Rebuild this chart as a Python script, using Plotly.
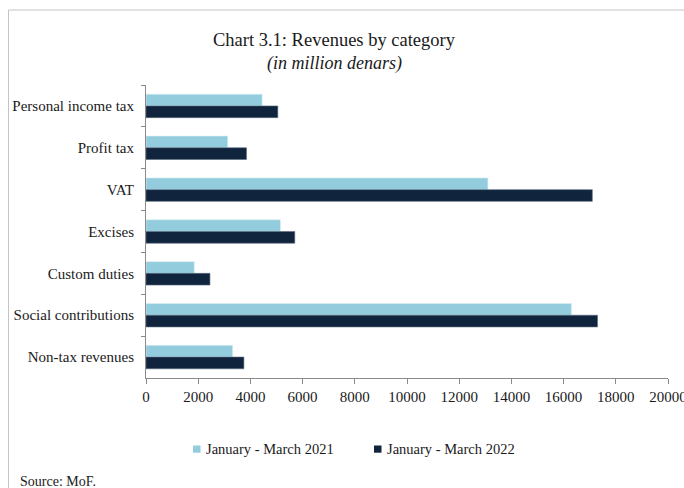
import plotly.graph_objects as go

# Revenue categories (top to bottom) and values in million denars
categories = [
    "Personal income tax",
    "Profit tax",
    "VAT",
    "Excises",
    "Custom duties",
    "Social contributions",
    "Non-tax revenues",
]
rev_2021 = [4450, 3130, 13100, 5150, 1850, 16300, 3320]
rev_2022 = [5050, 3850, 17100, 5700, 2450, 17300, 3750]
series_names = ["January - March 2021", "January - March 2022"]
x_ticks = [0, 2000, 4000, 6000, 8000, 10000, 12000, 14000, 16000, 18000, 20000]

LIGHT = "#93CDDD"
DARK = "#10243E"
FONT = "Liberation Serif"
TEXT = "#1a1a1a"
AXIS = "#8a8a8a"

W, H = 684, 488
L, R, T, B = 146, 16, 85, 110
PW, PH = W - L - R, H - T - B


def px(xp):
    return (xp - L) / PW


def py(yp):
    return (H - B - yp) / PH


fig = go.Figure()
fig.add_trace(go.Bar(
    y=categories, x=rev_2021, name=series_names[0], orientation="h",
    marker=dict(color=LIGHT, line=dict(color="#d8eef4", width=0.6)),
    showlegend=False,
))
fig.add_trace(go.Bar(
    y=categories, x=rev_2022, name=series_names[1], orientation="h",
    marker=dict(color=DARK, line=dict(color="#5a6b80", width=0.6)),
    showlegend=False,
))

fig.update_layout(
    width=W, height=H,
    margin=dict(l=L, r=R, t=T, b=B, autoexpand=False),
    paper_bgcolor="white", plot_bgcolor="white",
    barmode="group", bargap=0.44, bargroupgap=0,
    font=dict(family=FONT, size=15, color=TEXT),
)

fig.update_xaxes(
    range=[0, 20000], tickvals=x_ticks, tickformat="d",
    showgrid=False, zeroline=False, automargin=False,
    showline=True, linecolor=AXIS, linewidth=1,
    ticks="outside", ticklen=5, tickcolor=AXIS,
    ticklabeloverflow="allow",
    tickfont=dict(family=FONT, size=15, color=TEXT),
)
fig.update_yaxes(
    type="category", autorange="reversed", automargin=False,
    showgrid=False, zeroline=False,
    showline=True, linecolor=AXIS, linewidth=1,
    ticks="outside", ticklen=4, tickcolor=AXIS, tickson="boundaries",
    ticklabelstandoff=8,
    tickfont=dict(family=FONT, size=15, color=TEXT),
)

# Outer frame (left and top edges visible)
fig.add_shape(type="rect", xref="paper", yref="paper",
              x0=px(8.5), x1=px(720), y0=py(520), y1=py(10),
              line=dict(color="#c4c4c4", width=1), fillcolor="rgba(0,0,0,0)",
              layer="below")

# Title and subtitle
fig.add_annotation(xref="paper", yref="paper", x=px(334), y=py(39.5),
                   text="Chart 3.1: Revenues by category", showarrow=False,
                   font=dict(family=FONT, size=18.5, color=TEXT),
                   xanchor="center", yanchor="middle")
fig.add_annotation(xref="paper", yref="paper", x=px(334), y=py(63),
                   text="<i>(in million denars)</i>", showarrow=False,
                   font=dict(family=FONT, size=18, color=TEXT),
                   xanchor="center", yanchor="middle")

# Legend: colour squares with labels
legend_items = [(193, LIGHT, series_names[0]), (374, DARK, series_names[1])]
for x0, col, label in legend_items:
    fig.add_shape(type="rect", xref="paper", yref="paper",
                  x0=px(x0), x1=px(x0 + 7.5), y0=py(452.7), y1=py(445.5),
                  line=dict(width=0), fillcolor=col)
    fig.add_annotation(xref="paper", yref="paper", x=px(x0 + 11), y=py(448.5),
                       text=label, showarrow=False,
                       font=dict(family=FONT, size=14.5, color=TEXT),
                       xanchor="left", yanchor="middle")

# Source note
fig.add_annotation(xref="paper", yref="paper", x=px(18), y=py(481),
                   text="Source: MoF.", showarrow=False,
                   font=dict(family=FONT, size=14, color=TEXT),
                   xanchor="left", yanchor="middle")

fig.write_html("out.html")
